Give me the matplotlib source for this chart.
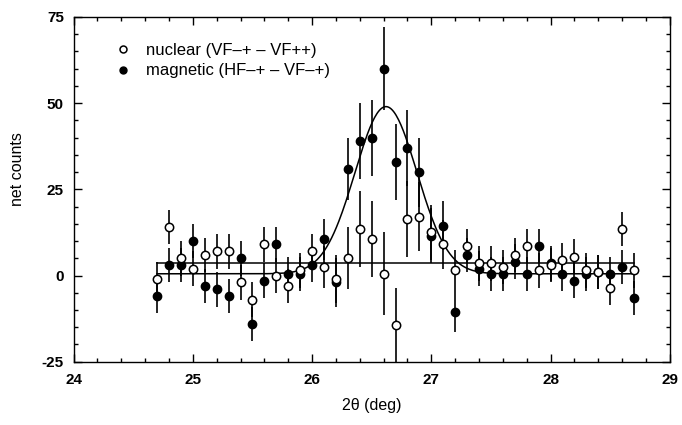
import numpy as np
import matplotlib
matplotlib.use("Agg")
import matplotlib.pyplot as plt
from matplotlib.lines import Line2D
from matplotlib.ticker import MultipleLocator

plt.rcParams['font.family'] = ['Liberation Sans', 'DejaVu Sans']
plt.rcParams['axes.unicode_minus'] = False

# scattering angle 2theta (deg)
two_theta = [24.7, 24.8, 24.9, 25.0, 25.1, 25.2, 25.3, 25.4, 25.5, 25.6,
             25.7, 25.8, 25.9, 26.0, 26.1, 26.2, 26.3, 26.4, 26.5, 26.6,
             26.7, 26.8, 26.9, 27.0, 27.1, 27.2, 27.3, 27.4, 27.5, 27.6,
             27.7, 27.8, 27.9, 28.0, 28.1, 28.2, 28.3, 28.4, 28.5, 28.6,
             28.7]

nuclear = [-1, 14, 5, 2, 6, 7, 7, -2, -7, 9,
           0, -3, 1.5, 7, 2.5, -1, 5, 13.5, 10.5, 0.5,
           -14.5, 16.5, 17, 12.5, 9, 1.5, 8.5, 3.5, 3.5, 2.5,
           6, 8.5, 1.5, 3, 4.5, 5.5, 1.5, 1, -3.5, 13.5,
           1.5]

magnetic = [-6, 3, 3, 10, -3, -4, -6, 5, -14, -1.5,
            9, 0.5, 0.5, 3, 10.5, -2, 31, 39, 40, 60,
            33, 37, 30, 11.5, 14.5, -10.5, 6, 2, 0.5, 0.5,
            4, 0.5, 8.5, 3.5, 0.5, -1.5, 0.5, 1, 0.5, 2.5,
            -6.5]

errors = [5, 5, 5, 5, 5, 5, 5, 5, 5, 5,
          5, 5, 5, 5, 6, 7, 9, 11, 11, 12,
          11, 11, 10, 8, 7, 6, 5, 5, 5, 5,
          5, 5, 5, 5, 5, 5, 5, 5, 5, 5,
          5]

# fitted curves
nuclear_level = 3.6
gauss_amp = 48.5
gauss_center = 26.62
gauss_sigma = 0.26
gauss_base = 0.5


def main():
    fig = plt.figure(figsize=(6.82, 4.25), dpi=100)
    ax = fig.add_axes([0.108, 0.149, 0.874, 0.811])

    x = np.array(two_theta)
    xf = np.linspace(x[0], x[-1], 400)
    gauss = gauss_base + gauss_amp * np.exp(-(xf - gauss_center) ** 2 / (2 * gauss_sigma ** 2))
    ax.plot(xf, gauss, color='black', lw=1.1, zorder=2)
    ax.plot([x[0], x[-1]], [nuclear_level, nuclear_level], color='black', lw=1.1, zorder=2)

    ax.errorbar(x, magnetic, yerr=errors, fmt='o', color='black', mfc='black',
                mec='black', ms=6, elinewidth=1.2, capsize=0, zorder=3)
    ax.errorbar(x, nuclear, yerr=errors, fmt='o', color='black', mfc='white',
                mec='black', ms=6, mew=1.1, elinewidth=1.2, capsize=0, zorder=4)

    ax.set_xlim(24, 29)
    ax.set_ylim(-25, 75)
    ax.xaxis.set_major_locator(MultipleLocator(1))
    ax.xaxis.set_minor_locator(MultipleLocator(0.2))
    ax.yaxis.set_major_locator(MultipleLocator(25))
    ax.yaxis.set_minor_locator(MultipleLocator(5))
    ax.tick_params(which='both', direction='in', top=True, right=True,
                   labelsize=11, width=1.0)
    ax.tick_params(which='major', length=6)
    ax.tick_params(which='minor', length=3)
    ax.tick_params(axis='x', pad=8)
    ax.tick_params(axis='y', pad=7)
    for lab in ax.get_xticklabels() + ax.get_yticklabels():
        lab.set_fontweight('bold')
    for s in ax.spines.values():
        s.set_linewidth(1.0)

    ax.set_xlabel('2θ (deg)', fontsize=11.5, labelpad=8)
    ax.set_ylabel('net counts', fontsize=11.5)
    ax.yaxis.set_label_coords(-0.082, 0.56)

    handles = [
        Line2D([], [], ls='none', marker='o', ms=5, mfc='white', mec='black', mew=1.1),
        Line2D([], [], ls='none', marker='o', ms=5, mfc='black', mec='black'),
    ]
    labels = ['nuclear (VF–+ – VF++)', 'magnetic (HF–+ – VF–+)']
    ax.legend(handles, labels, loc='upper left', frameon=False,
              fontsize=12, handletextpad=1.0, bbox_to_anchor=(0.06, 0.945),
              borderaxespad=0, labelspacing=0.35, handlelength=0.8)

    fig.savefig('out.png', dpi=100)


if __name__ == "__main__":
    main()
